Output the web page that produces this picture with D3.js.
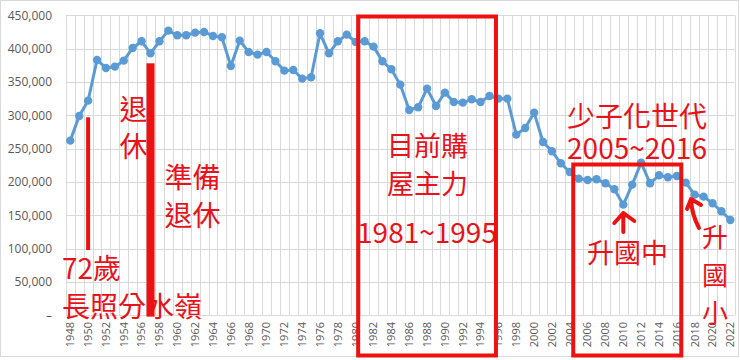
<!DOCTYPE html>
<html>
<head>
<meta charset="utf-8">
<script src="https://cdn.jsdelivr.net/npm/d3@7"></script>
<style>
  body { margin: 0; background: #fff; }
  svg { display: block; }
  .axis-label { font-family: "Open Sans", "Liberation Sans", sans-serif; fill: #595959; }
  .note { font-family: "Noto Sans CJK TC", sans-serif; fill: #e8121a; font-weight: 400; }
</style>
</head>
<body>
<div id="chart"></div>
<script>
// Years shown on the category axis
var years = d3.range(1948, 2023);

// Births per year
var births = [
    262000, 299000, 322000, 383000, 371000, 373000, 382000, 401000, 411000, 393000,
    411000, 427000, 420000, 420000, 424000, 425000, 419000, 417000, 374000, 412000,
    395000, 391000, 395000, 381000, 367000, 368000, 355000, 357000, 423000, 393000,
    411000, 421000, 410000, 411000, 403000, 381000, 369000, 346000, 308000, 312000,
    340000, 314000, 334000, 320000, 319000, 324000, 320000, 329000, 325000, 325000,
    271000, 281000, 304000, 260000, 246000, 228000, 215000, 205000, 203000, 204000,
    198000, 189000, 166000, 196000, 229000, 198000, 210000, 207000, 209000, 199000,
    181000, 178000, 168000, 156000, 143000
];

// y axis ticks
var yTicks = d3.range(0, 450001, 50000);

// year labels: every other year
var xTickYears = years.filter(function(d){ return (d - 1948) % 2 === 0; });

var width = 740, height = 360;
var plot = { left: 65.8, right: 734.8, top: 15.3, bottom: 315.3 };
var red = "#ee1111";

var svg = d3.select("#chart").append("svg")
    .attr("width", width).attr("height", height);

// chart border
svg.append("rect").attr("x", 0.5).attr("y", 0.5)
    .attr("width", 738).attr("height", 356)
    .attr("fill", "none").attr("stroke", "#d9d9d9");

var x = d3.scaleBand().domain(years).range([plot.left, plot.right]).padding(0);
var y = d3.scaleLinear().domain([0, 450000]).range([plot.bottom, plot.top]);
var cx = function(yr){ return x(yr) + x.bandwidth() / 2; };

// horizontal gridlines
svg.append("g").selectAll("line").data(yTicks).enter().append("line")
    .attr("x1", plot.left).attr("x2", plot.right)
    .attr("y1", function(d){ return Math.round(y(d)) + 0.5; })
    .attr("y2", function(d){ return Math.round(y(d)) + 0.5; })
    .attr("stroke", "#d9d9d9").attr("stroke-width", 1);

// vertical gridlines at category boundaries
var bounds = years.map(function(d){ return x(d); }).concat([plot.right]);
svg.append("g").selectAll("line").data(bounds).enter().append("line")
    .attr("x1", function(d){ return Math.round(d) + 0.5; })
    .attr("x2", function(d){ return Math.round(d) + 0.5; })
    .attr("y1", plot.top).attr("y2", plot.bottom)
    .attr("stroke", "#d9d9d9").attr("stroke-width", 1);

// y labels
svg.append("g").selectAll("text").data(yTicks).enter().append("text")
    .attr("class", "axis-label")
    .attr("x", 52).attr("y", function(d){ return y(d); })
    .attr("dy", "0.35em").attr("text-anchor", "end")
    .style("font-size", "12px")
    .text(function(d){ return d === 0 ? "–" : d3.format(",")(d); });

// x labels (rotated)
svg.append("g").selectAll("text").data(xTickYears).enter().append("text")
    .attr("class", "axis-label")
    .attr("transform", function(d){ return "translate(" + cx(d) + ",322) rotate(-90)"; })
    .attr("text-anchor", "end").attr("dy", "0.35em")
    .style("font-size", "11px")
    .text(function(d){ return d; });

// line + markers
var series = years.map(function(d, i){ return { year: d, value: births[i] }; });

svg.append("path").datum(series)
    .attr("fill", "none").attr("stroke", "#5b9bd5").attr("stroke-width", 3)
    .attr("stroke-linejoin", "round")
    .attr("d", d3.line().x(function(d){ return cx(d.year); }).y(function(d){ return y(d.value); }));

svg.append("g").selectAll("circle").data(series).enter().append("circle")
    .attr("cx", function(d){ return cx(d.year); })
    .attr("cy", function(d){ return y(d.value); })
    .attr("r", 4.2).attr("fill", "#5b9bd5");

// ---- annotations ----
function note(txt, xx, yy, size, anchor) {
    svg.append("text").attr("class", "note")
        .attr("x", xx).attr("y", yy)
        .attr("dominant-baseline", "central")
        .attr("text-anchor", anchor || "middle")
        .style("font-size", size + "px")
        .text(txt);
}

// several lines in one text element
function noteLines(lines, xx, yy, gap, size) {
    var t = svg.append("text").attr("class", "note")
        .attr("text-anchor", "middle")
        .style("font-size", size + "px");
    lines.forEach(function(s, i){
        t.append("tspan").attr("x", xx).attr("y", yy + i * gap)
            .attr("dominant-baseline", "central").text(s);
    });
}

note("退", 133.5, 107.5, 28);
note("休", 133.5, 144.5, 28);
note("準備", 192.5, 175.5, 28);
note("退休", 192.5, 213.5, 28);
note("72歲", 62, 266.5, 28, "start");
note("長照分水嶺", 62, 304.5, 28, "start");

// bar at 1950
svg.append("rect")
    .attr("x", cx(1950) - 2).attr("width", 4)
    .attr("y", y(297000)).attr("height", y(98000) - y(297000))
    .attr("fill", red);

// thick bar at 1957
svg.append("rect")
    .attr("x", cx(1957) - 4).attr("width", 8)
    .attr("y", y(378000)).attr("height", y(-2000) - y(378000))
    .attr("fill", red);

// 1981~1995 box
svg.append("rect")
    .attr("x", x(1981) - 2).attr("y", 16.5)
    .attr("width", x(1996) + 2 - (x(1981) - 2)).attr("height", 339)
    .attr("fill", "none").attr("stroke", red).attr("stroke-width", 4);

note("目前購", 427.5, 144, 27);
note("屋主力", 427.5, 182, 27);
note("1981~1995", 427, 231, 28);

// 2005~2016 box
svg.append("rect")
    .attr("x", x(2005) - 1).attr("y", 164.5)
    .attr("width", x(2017) - (x(2005) - 1)).attr("height", 191)
    .attr("fill", "none").attr("stroke", red).attr("stroke-width", 4);

noteLines(["少子化世代", "2005~2016"], 637, 115, 32, 28);
note("升國中", 627.5, 251.5, 27);
noteLines(["升", "國", "小"], 715, 235, 38, 26);

// arrow to 2010
svg.append("path")
    .attr("d", "M" + cx(2010) + ",232 L" + cx(2010) + ",213 M" + (cx(2010) - 9) + ",223 L" + cx(2010) + ",213 L" + (cx(2010) + 11) + ",221")
    .attr("fill", "none").attr("stroke", red).attr("stroke-width", 4)
    .attr("stroke-linecap", "round").attr("stroke-linejoin", "round");

// arrow near 2017
svg.append("path")
    .attr("d", "M699,228 Q692,215 691,200 M687,209 L691,199 L701,205")
    .attr("fill", "none").attr("stroke", red).attr("stroke-width", 4)
    .attr("stroke-linecap", "round").attr("stroke-linejoin", "round");
</script>
</body>
</html>
